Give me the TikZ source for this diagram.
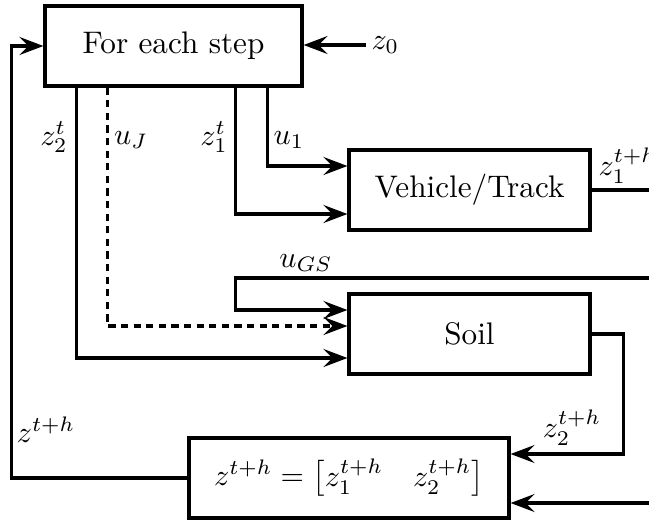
\documentclass[tikz,border=0pt]{standalone}
\usepackage{amsmath}
\usetikzlibrary{arrows.meta,calc}
\begin{document}
\begin{tikzpicture}[x=0.3333pt,y=-0.3333pt,line width=1.05pt,
  every node/.style={font=\fontsize{10.4pt}{12.5pt}\selectfont},
  blk/.style={draw,line width=1.05pt,inner sep=0pt,minimum width=#1,minimum height=26.67pt},
  arr/.style={-{Stealth[length=8pt,width=6pt,inset=3pt]}},
  dsh/.style={dash pattern=on 2.4pt off 1.8pt},
  lbl/.style={inner sep=0pt}]
\clip (0,0) rectangle (649,521);
\node[blk=85.67pt] (step) at (173.5,46) {For each step};
\node[blk=80.33pt] (veh) at (469.5,190) {Vehicle/Track};
\node[blk=80.33pt] (soil) at (469.5,334) {Soil};
\node[blk=106.67pt] (comb) at (349,478) {$z^{t+h} = \begin{bmatrix} z_1^{t+h} & z_2^{t+h}\end{bmatrix}$};
\coordinate (eA) at (670,191);
\coordinate (gs) at (670,278);
\coordinate (gb) at (670,503);
\node[lbl,anchor=west] (z0) at (370,45) {$z_0$};
% connectors
\draw[arr] (z0.west) ++(-4,0) coordinate (z0s) -- (z0s -| step.east);
\draw[arr] ($(step.south west)+(224,0)$) |- ($(veh.west)+(0,-24)$);
\draw[arr] ($(step.south west)+(192,0)$) |- ($(veh.west)+(0,24)$);
\draw[arr,dsh] ($(step.south west)+(64,0)$) |- ($(soil.west)+(0,-8)$);
\draw[arr] ($(step.south west)+(33,0)$) |- ($(soil.west)+(0,24)$);
\draw (veh.east) -- (veh.east -| eA);
\draw[arr] (gs) -| ($(soil.west)+(-112,-24)$) -- ($(soil.west)+(0,-24)$);
\draw[arr] (soil.east) -| ($(comb.east)+(113,-24)$) -- ($(comb.east)+(0,-24)$);
\draw[arr] (gb) -- (comb.east |- gb);
\draw[arr] (comb.west) -| ($(step.west)+(-32,0)$) -- (step.west);
% labels
\node[lbl] (lz2) at (54,137) {$z_2^t$};
\node[lbl] (luj) at (131,140) {$u_J$};
\node[lbl] (lz1) at (214,137) {$z_1^t$};
\node[lbl] (lu1) at (289,140) {$u_1$};
\node[lbl,anchor=west] (lz1h) at (597,166) {$z_1^{t+h}$};
\node[lbl] (lgs) at (306,263) {$u_{GS}$};
\node[lbl] (lzh) at (46,430) {$z^{t+h}$};
\node[lbl] (lz2h) at (572,428) {$z_2^{t+h}$};
\end{tikzpicture}
\end{document}
